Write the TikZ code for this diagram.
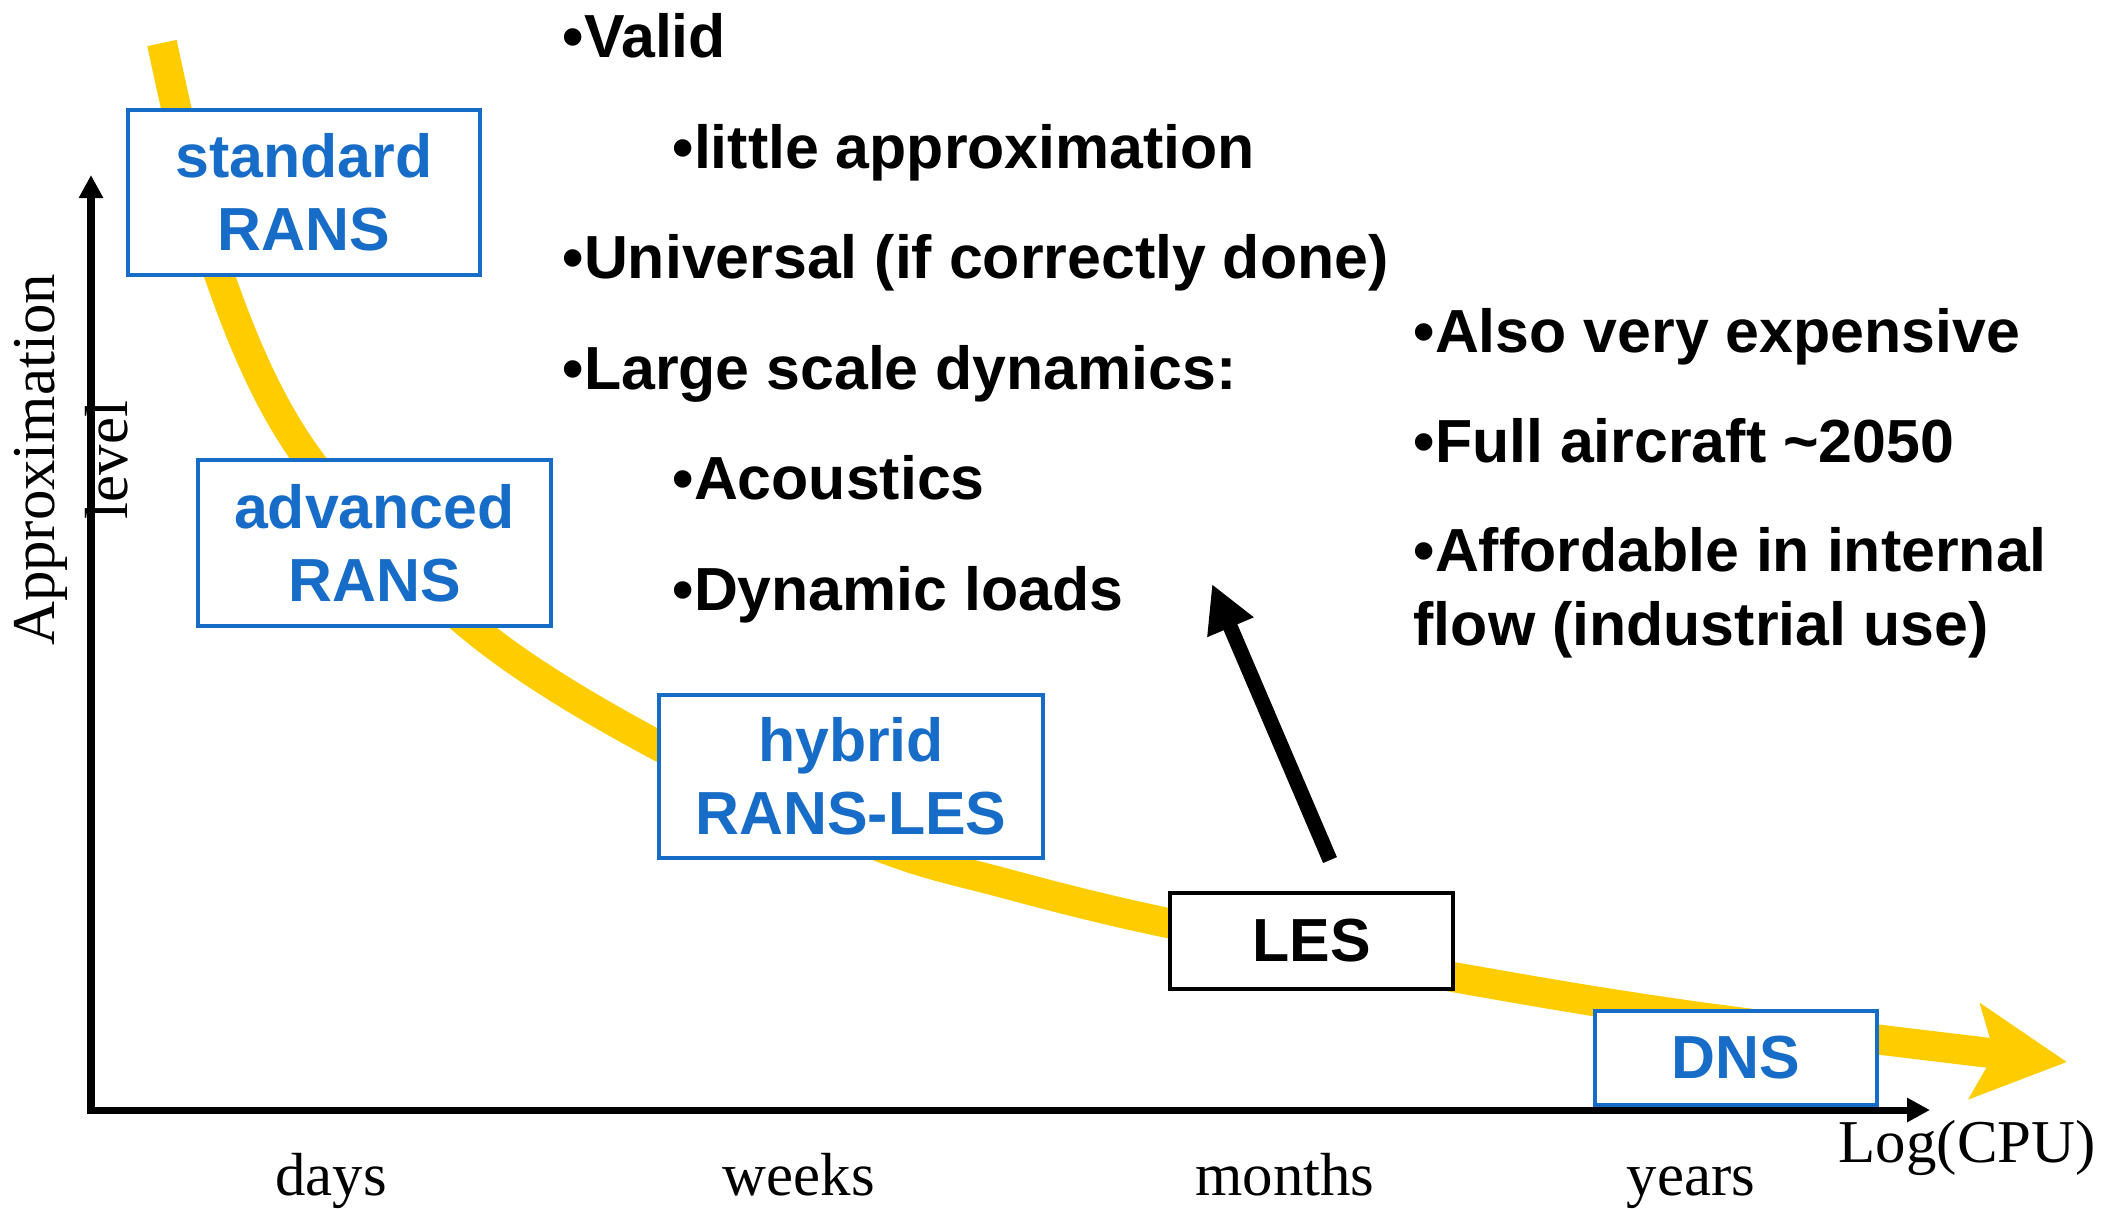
\documentclass[tikz,border=0pt]{standalone}
\usepackage{fontspec}
\setmainfont{Liberation Serif}
\newfontfamily\arialfont{Liberation Sans}
\usetikzlibrary{arrows.meta}
\definecolor{ransblue}{RGB}{22,108,198}
\definecolor{curveyellow}{RGB}{255,204,0}

\begin{document}
\begin{tikzpicture}[x=0.01cm,y=-0.01cm,inner sep=0pt,
  lab/.style={font=\fontsize{17.3}{20.8}\selectfont},
  txt/.style={font=\arialfont\bfseries\fontsize{17.3}{20.8}\selectfont},
  model/.style={txt,draw=ransblue,text=ransblue,fill=white,line width=1.1pt,align=center},
  axis/.style={line width=0.07cm,{Triangle[length=0.23cm,width=0.23cm]}-{Triangle[length=0.23cm,width=0.23cm]}}]
   \useasboundingbox (0,0) rectangle (2107,1208);
   % cost curve
   \draw[curveyellow,line width=0.3cm,-{Stealth[length=0.92cm,width=0.94cm,inset=0.19cm]}]
     plot[smooth,tension=0.55] coordinates {(162,43) (220,277) (307,457) (473,628) (657,745)
       (873,844) (1000,882) (1168,923) (1453,977) (1700,1017) (2067,1062)};
   % axes
   \coordinate (o) at (91,1110);
   \coordinate (ytip) at (91,175);
   \coordinate (xtip) at (1930,1110);
   \draw[axis] (ytip) -- (o) -- (xtip);
   \node[lab,rotate=90,align=center] (lvl) at (71,460) {Approximation\\level};
   \node[lab,anchor=base west] (cpu) at (1838,1162) {Log(CPU)};
   \foreach \x/\lbl [count=\i] in {331/days, 799/weeks, 1285/months, 1691/years}
     \node[lab,anchor=base] (t\i) at (\x,1195) {\lbl};
   % models
   \node[model,minimum width=3.52cm,minimum height=1.65cm] (std) at (304,192.5) {standard\\RANS};
   \node[model,minimum width=3.53cm,minimum height=1.66cm] (adv) at (374.5,543) {advanced\\RANS};
   \node[model,minimum width=3.84cm,minimum height=1.63cm] (hyb) at (851,776.5) {hybrid\\RANS-LES};
   \node[model,draw=black,text=black,minimum width=2.83cm,minimum height=0.96cm] (les) at (1311.5,941) {LES};
   \node[model,minimum width=2.82cm,minimum height=0.94cm] (dns) at (1736,1058) {DNS};
   \coordinate (up) at (1212,584);
   \draw[line width=0.15cm,-{Triangle[length=0.47cm,width=0.47cm]}] ([shift={(18.5,-31)}]les.north) -- (up);
   % remarks
   \foreach \x/\y/\lbl [count=\i] in
     {562/57/Valid,
      672/168/little approximation,
      562/278/Universal (if correctly done),
      562/389/Large scale dynamics:,
      672/499/Acoustics,
      672/610/Dynamic loads,
      1413/352/Also very expensive,
      1413/462/Full aircraft {\char"007E}2050
     }
     \node[txt,anchor=base west] (b\i) at (\x,\y) {\textbullet\lbl};
   \node[txt,anchor=base west,align=left] (afford) at (1413,645) {\textbullet Affordable in internal\\flow (industrial use)};
\end{tikzpicture}
\end{document}
